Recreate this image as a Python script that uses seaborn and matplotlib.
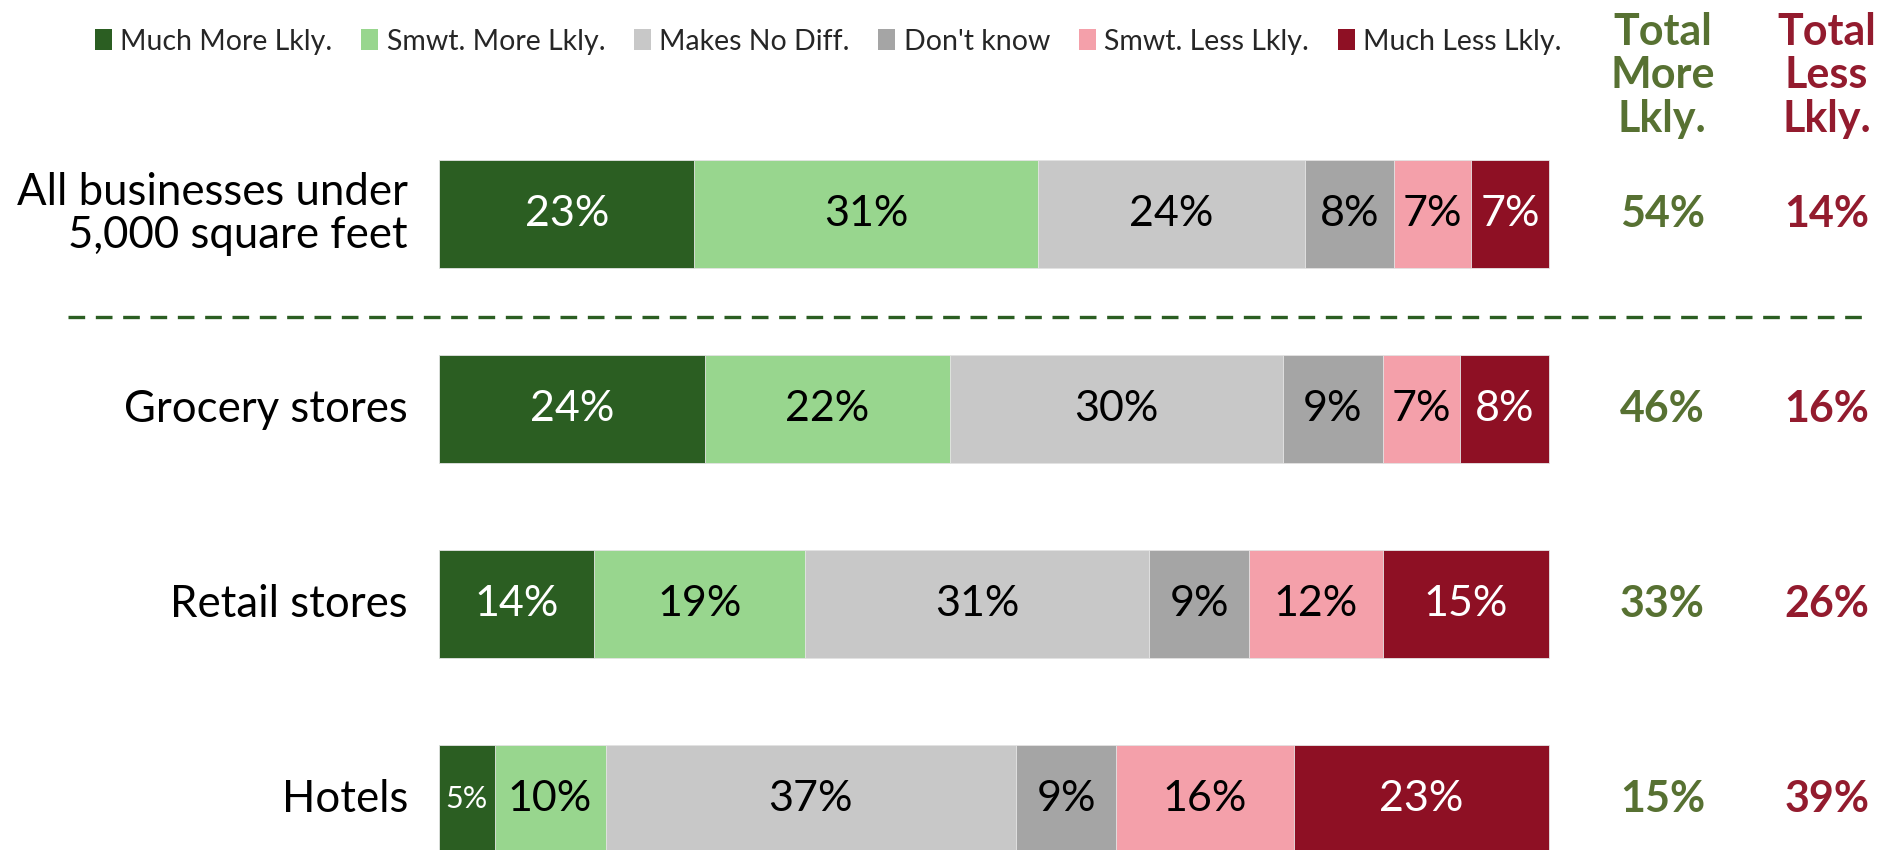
import matplotlib
matplotlib.use("Agg")
import matplotlib.pyplot as plt
import seaborn as sns
import pandas as pd
import numpy as np
from matplotlib.patches import Patch

sns.set_theme(style="white")
plt.rcParams['font.family'] = ['Lato', 'DejaVu Sans']

categories = ["All businesses under\n5,000 square feet", "Grocery stores", "Retail stores", "Hotels"]
series = ["Much More Lkly.", "Smwt. More Lkly.", "Makes No Diff.", "Don't know", "Smwt. Less Lkly.", "Much Less Lkly."]
much_more = [23, 24, 14, 5]
smwt_more = [31, 22, 19, 10]
no_diff = [24, 30, 31, 37]
dont_know = [8, 9, 9, 9]
smwt_less = [7, 7, 12, 16]
much_less = [7, 8, 15, 23]
total_more = [54, 46, 33, 15]
total_less = [14, 16, 26, 39]

colors = ["#2B5E22", "#98D68E", "#C8C8C8", "#A5A5A5", "#F4A0AA", "#8E1024"]
text_colors = ["white", "black", "black", "black", "black", "white"]
green_txt = "#577132"
red_txt = "#931B2E"

values = [much_more, smwt_more, no_diff, dont_know, smwt_less, much_less]
cum = np.cumsum(np.array(values), axis=0)

fig = plt.figure(figsize=(18.91, 8.5), dpi=100)
ax = fig.add_axes([0, 0, 1, 1])

ypos = list(range(len(categories)))
# draw stacked bars from outermost cumulative to innermost
for i in range(len(series) - 1, -1, -1):
    df = pd.DataFrame({"cat": ypos, "val": cum[i]})
    sns.barplot(data=df, x="val", y="cat", orient="h", color=colors[i],
                width=0.555, ax=ax, saturation=1, edgecolor="#E6E6E6",
                linewidth=0.6, native_scale=True)

# segment labels
for i in range(len(series)):
    for j in range(len(categories)):
        v = values[i][j]
        start = cum[i][j] - v
        fs = 31 if v >= 6 else 22
        ax.text(start + v / 2, j, f"{v}%", ha="center", va="center",
                fontsize=fs, color=text_colors[i])

# category labels
for j, c in enumerate(categories):
    ax.text(-2.8, j, c, ha="right", va="center", fontsize=31.5, color="black",
            linespacing=1.05)

# totals
for j in range(len(categories)):
    ax.text(110.2, j, f"{total_more[j]}%", ha="center", va="center",
            fontsize=31, fontweight="bold", color=green_txt)
    ax.text(125.0, j, f"{total_less[j]}%", ha="center", va="center",
            fontsize=31, fontweight="bold", color=red_txt)

ax.text(110.2, -0.71, "Total\nMore\nLkly.", ha="center", va="center",
        fontsize=31, fontweight="bold", color=green_txt, linespacing=1.12)
ax.text(125.0, -0.71, "Total\nLess\nLkly.", ha="center", va="center",
        fontsize=31, fontweight="bold", color=red_txt, linespacing=1.12)

# dashed separator
ax.plot([-33.4, 128.9], [0.528, 0.528], color="#2B5E22", lw=2.4,
        linestyle=(0, (5, 3.2)))

ax.set_xlim(-39.55, 130.8)
ax.set_ylim(3.26, -1.097)
ax.axis("off")

handles = [Patch(facecolor=c, edgecolor="none") for c in colors]
fig.legend(handles, series, loc="center left", bbox_to_anchor=(0.044, 0.951),
           ncol=6, frameon=False, fontsize=20.5, handlelength=0.6,
           handleheight=0.75, handletextpad=0.3, columnspacing=1.0,
           borderaxespad=0)

fig.savefig("out.png", dpi=100)
